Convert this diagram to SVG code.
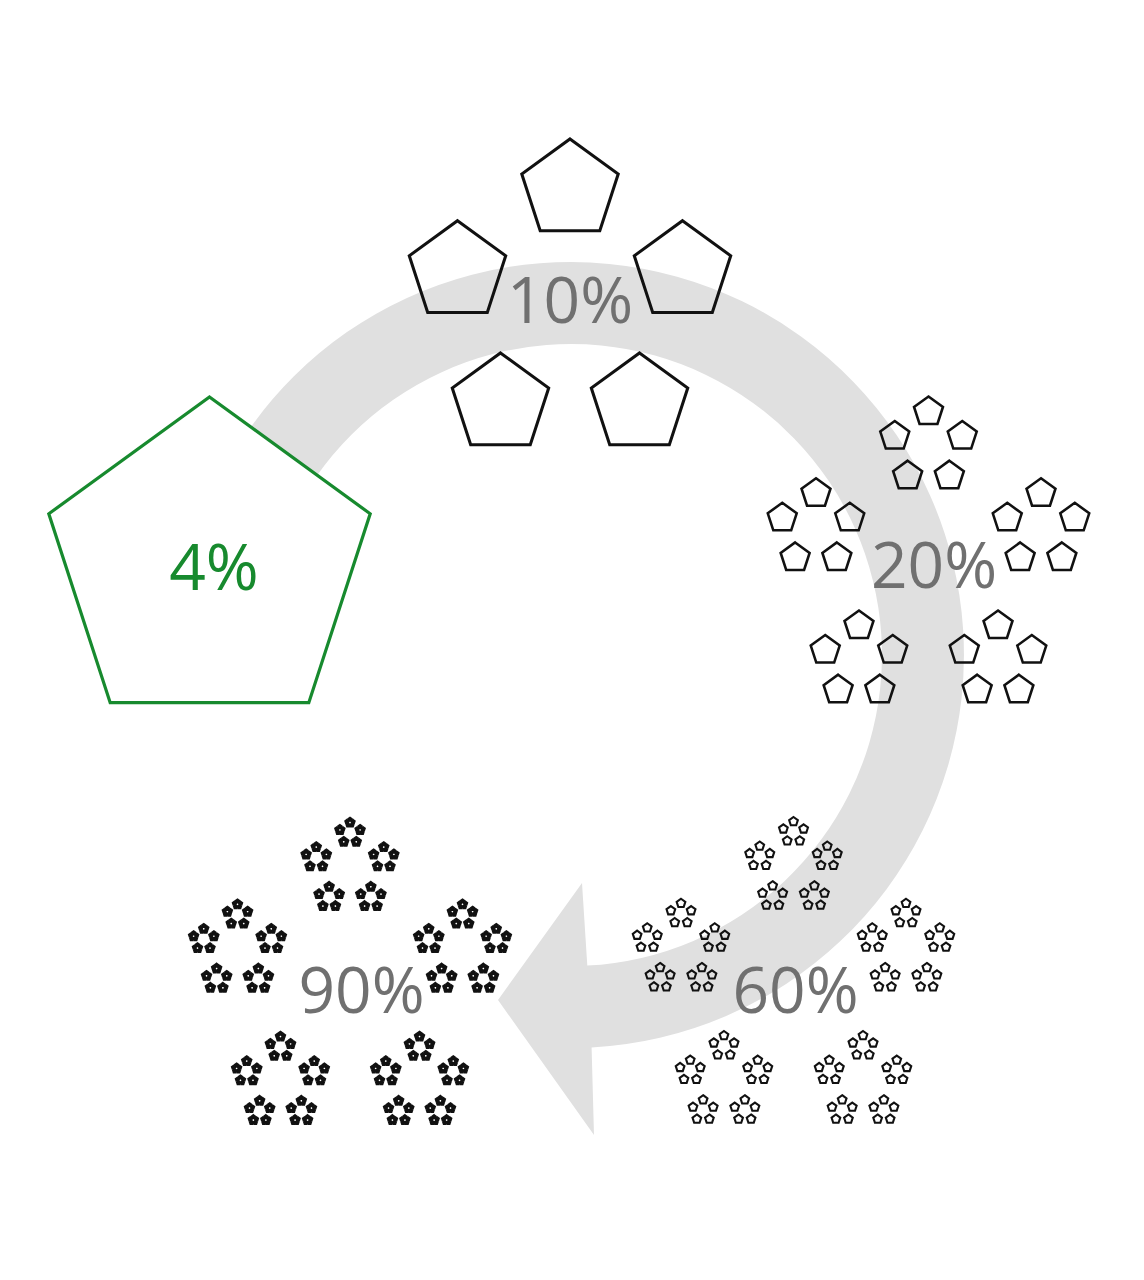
<svg xmlns="http://www.w3.org/2000/svg" xmlns:xlink="http://www.w3.org/1999/xlink" width="1144" height="1280" viewBox="0 0 1144 1280">
  <style>
    .lbl { font-family: "Open Sans", "Liberation Sans", sans-serif; font-size: 64px; text-anchor: middle; }
    .gray { fill: #707070; }
    .green { fill: #178a2e; }
    .flake { fill: none; stroke: #111111; stroke-linejoin: miter; }
  </style>
  <defs>
    <path id="p" d="M0,-1 L0.9511,-0.309 L0.5878,0.809 L-0.5878,0.809 L-0.9511,-0.309 Z"/>
    <g id="L1">
      <use href="#p" xlink:href="#p" transform="translate(0,-0.7) scale(0.3)"/>
      <use href="#p" xlink:href="#p" transform="translate(0.6657,-0.2163) scale(0.3)"/>
      <use href="#p" xlink:href="#p" transform="translate(0.4114,0.5663) scale(0.3)"/>
      <use href="#p" xlink:href="#p" transform="translate(-0.4114,0.5663) scale(0.3)"/>
      <use href="#p" xlink:href="#p" transform="translate(-0.6657,-0.2163) scale(0.3)"/>
    </g>
    <g id="L2">
      <use href="#L1" xlink:href="#L1" transform="translate(0,-0.7) scale(0.3)"/>
      <use href="#L1" xlink:href="#L1" transform="translate(0.6657,-0.2163) scale(0.3)"/>
      <use href="#L1" xlink:href="#L1" transform="translate(0.4114,0.5663) scale(0.3)"/>
      <use href="#L1" xlink:href="#L1" transform="translate(-0.4114,0.5663) scale(0.3)"/>
      <use href="#L1" xlink:href="#L1" transform="translate(-0.6657,-0.2163) scale(0.3)"/>
    </g>
    <g id="L3">
      <use href="#L2" xlink:href="#L2" transform="translate(0,-0.7) scale(0.3)"/>
      <use href="#L2" xlink:href="#L2" transform="translate(0.6657,-0.2163) scale(0.3)"/>
      <use href="#L2" xlink:href="#L2" transform="translate(0.4114,0.5663) scale(0.3)"/>
      <use href="#L2" xlink:href="#L2" transform="translate(-0.4114,0.5663) scale(0.3)"/>
      <use href="#L2" xlink:href="#L2" transform="translate(-0.6657,-0.2163) scale(0.3)"/>
    </g>
    <g id="L4">
      <use href="#L3" xlink:href="#L3" transform="translate(0,-0.7) scale(0.3)"/>
      <use href="#L3" xlink:href="#L3" transform="translate(0.6657,-0.2163) scale(0.3)"/>
      <use href="#L3" xlink:href="#L3" transform="translate(0.4114,0.5663) scale(0.3)"/>
      <use href="#L3" xlink:href="#L3" transform="translate(-0.4114,0.5663) scale(0.3)"/>
      <use href="#L3" xlink:href="#L3" transform="translate(-0.6657,-0.2163) scale(0.3)"/>
    </g>
  </defs>

  <rect width="1144" height="1280" fill="#ffffff"/>

  <g id="connectors">
    <path id="cycle-arrow" fill="#e0e0e0" d="M214.8,488.9 A393,393 0 1 1 591.6,1047.5 L594,1135 L498,1000 L582,883 L587.3,965.6 A311,311 0 1 0 289.1,523.6 Z"/>
  </g>

  <g id="node-4">
    <path d="M209.5,397 L370.2,513.8 L308.8,702.7 L110.2,702.7 L48.8,513.8 Z" fill="#ffffff" stroke="#178a2e" stroke-width="3.2" stroke-linejoin="miter"/>
    <text class="lbl green" x="214" y="590">4%</text>
  </g>

  <g id="node-10">
    <use class="flake" href="#L1" xlink:href="#L1" transform="translate(570,308) scale(169)" style="stroke-width:0.06"/>
    <text class="lbl gray" x="570" y="323">10%</text>
  </g>

  <g id="node-20">
    <use class="flake" href="#L2" xlink:href="#L2" transform="translate(928.5,565.5) scale(169)" style="stroke-width:0.17"/>
    <text class="lbl gray" x="934" y="588">20%</text>
  </g>

  <g id="node-60">
    <use class="flake" href="#L3" xlink:href="#L3" transform="translate(793.5,986) scale(169)" style="stroke-width:0.46"/>
    <text class="lbl gray" x="795.5" y="1013">60%</text>
  </g>

  <g id="node-90">
    <use class="flake" href="#L4" xlink:href="#L4" transform="translate(350,987) scale(169)" style="stroke-width:1.9"/>
    <text class="lbl gray" x="361.5" y="1013">90%</text>
  </g>
</svg>
